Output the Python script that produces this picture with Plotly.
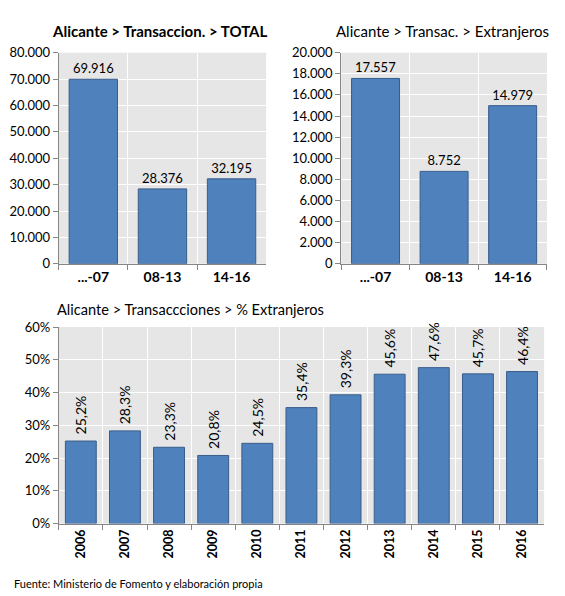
import plotly.graph_objects as go

# datos
periodos = ["...-07", "08-13", "14-16"]
total = [69916, 28376, 32195]
extranjeros = [17557, 8752, 14979]

anios = ["2006", "2007", "2008", "2009", "2010", "2011",
         "2012", "2013", "2014", "2015", "2016"]
pct_extranjeros = [25.2, 28.3, 23.3, 20.8, 24.5, 35.4, 39.3, 45.6, 47.6, 45.7, 46.4]

BAR = "#4f81bd"
BAR_LINE = "#385d8a"
AXIS = "#868686"
FONT = "Lato"

fig = go.Figure()

fig.add_trace(go.Bar(
    x=periodos, y=total, xaxis="x", yaxis="y",
    marker=dict(color=BAR, line=dict(color=BAR_LINE, width=1)),
    texttemplate="%{y:,.0f}", textposition="outside", constraintext="none",
    textfont=dict(size=13, color="#000000"), cliponaxis=False,
))
fig.add_trace(go.Bar(
    x=periodos, y=extranjeros, xaxis="x2", yaxis="y2",
    marker=dict(color=BAR, line=dict(color=BAR_LINE, width=1)),
    texttemplate="%{y:,.0f}", textposition="outside", constraintext="none",
    textfont=dict(size=13, color="#000000"), cliponaxis=False,
))
# espacio duro delante para separar la etiqueta girada de la barra
fig.add_trace(go.Bar(
    x=anios, y=pct_extranjeros, xaxis="x3", yaxis="y3",
    marker=dict(color=BAR, line=dict(color=BAR_LINE, width=1)),
    texttemplate="\u00a0%{y:.1f}%", textposition="outside", textangle=-90,
    constraintext="none",
    textfont=dict(size=14, color="#000000"), cliponaxis=False,
))

xcommon = dict(
    type="category", tickson="boundaries", showgrid=True, gridcolor="white",
    gridwidth=1, showline=True, linecolor=AXIS, ticks="outside", tickcolor=AXIS,
    ticklen=5, tickfont=dict(size=14, color="#000000", family=FONT, weight="bold"),
    fixedrange=True,
)
ycommon = dict(
    showgrid=True, gridcolor="white", gridwidth=1, showline=True, linecolor=AXIS,
    ticks="outside", tickcolor=AXIS, ticklen=5, zeroline=False,
    tickfont=dict(size=13, color="#000000", family=FONT), fixedrange=True,
)

fig.update_layout(
    width=565, height=596,
    margin=dict(l=0, r=0, t=0, b=0),
    paper_bgcolor="white", plot_bgcolor="#e6e6e6",
    font=dict(family=FONT, size=13, color="#000000"),
    separators=",.",
    showlegend=False,
    bargap=0.3,
    xaxis=dict(xcommon, domain=[0.104, 0.471], anchor="y"),
    yaxis=dict(ycommon, domain=[0.559, 0.923], anchor="x",
               range=[0, 80000], dtick=10000, tickformat=",.0f"),
    xaxis2=dict(xcommon, domain=[0.604, 0.968], anchor="y2"),
    yaxis2=dict(ycommon, domain=[0.559, 0.923], anchor="x2",
                range=[0, 20000], dtick=2000, tickformat=",.0f"),
    xaxis3=dict(xcommon, domain=[0.104, 0.963], anchor="y3", tickangle=-90,
                tickfont=dict(size=12.5, color="#000000", family=FONT, weight="bold")),
    yaxis3=dict(ycommon, domain=[0.111, 0.450], anchor="x3",
                range=[0, 60], dtick=10, ticksuffix="%"),
    annotations=[
        dict(text="<b>Alicante > Transaccion. > TOTAL</b>", x=0.283, y=0.961,
             xref="paper", yref="paper", xanchor="center", yanchor="middle",
             showarrow=False, font=dict(size=15)),
        dict(text="Alicante > Transac. > Extranjeros", x=0.784, y=0.961,
             xref="paper", yref="paper", xanchor="center", yanchor="middle",
             showarrow=False, font=dict(size=15)),
        dict(text="Alicante > Transaccciones > % Extranjeros", x=0.097, y=0.480,
             xref="paper", yref="paper", xanchor="left", yanchor="middle",
             showarrow=False, font=dict(size=14.6)),
        dict(text="Fuente: Ministerio de Fomento y elaboración propia", x=0.021, y=0.008,
             xref="paper", yref="paper", xanchor="left", yanchor="middle",
             showarrow=False, font=dict(size=11)),
    ],
)

fig.write_html("out.html", config={"displayModeBar": False},
               post_script="document.body.style.margin='0';")
